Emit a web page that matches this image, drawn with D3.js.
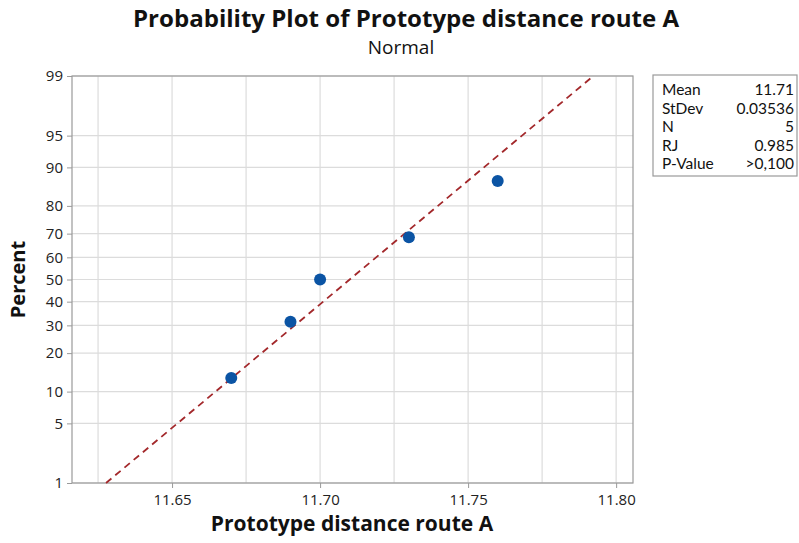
<!DOCTYPE html>
<html>
<head>
<meta charset="utf-8">
<title>Probability Plot</title>
<script src="https://d3js.org/d3.v7.min.js"></script>
<style>
 html, body { margin: 0; background: white; }
 svg text { font-family: "Open Sans", "Noto Sans", sans-serif; fill: #111; }
 .grid line { stroke: #dcdcdc; stroke-width: 1.2; }
 .axis path, .axis line { stroke: #9a9a9a; }
 .axis text { font-size: 15px; fill: #222; }
 .stats text { font-family: Lato, "Open Sans", sans-serif; }
</style>
</head>
<body>
<div id="plot"></div>
<script>
// data
const xs = [11.67, 11.69, 11.70, 11.73, 11.76];
const pcts = [13, 31.5, 50, 68.5, 87];
// fitted line end points (percent 1 and 99)
const fitX = [11.6277, 11.7923];
const fitP = [1, 99];
const yTicks = [1, 5, 10, 20, 30, 40, 50, 60, 70, 80, 90, 95, 99];
const xTicks = [11.65, 11.70, 11.75, 11.80];
const xGrid = [11.625, 11.65, 11.675, 11.70, 11.725, 11.75, 11.775, 11.80];
const statLabels = ["Mean", "StDev", "N", "RJ", "P-Value"];
const statValues = ["11.71", "0.03536", "5", "0.985", ">0,100"];

// inverse normal cdf (Acklam) for the probability scale
const invNorm = p => {
    const a = [-39.6968302866538, 220.946098424521, -275.928510446969, 138.357751867269, -30.6647980661472, 2.50662827745924];
    const b = [-54.4760987982241, 161.585836858041, -155.698979859887, 66.8013118877197, -13.2806815528857];
    const c = [-0.00778489400243029, -0.322396458041136, -2.40075827716184, -2.54973253934373, 4.37466414146497, 2.93816398269878];
    const d = [0.00778469570904146, 0.32246712907004, 2.445134137143, 3.75440866190742];
    const pl = 0.02425;
    let q, r;
    if (p < pl) {
        q = Math.sqrt(-2 * Math.log(p));
        return (((((c[0]*q+c[1])*q+c[2])*q+c[3])*q+c[4])*q+c[5]) / ((((d[0]*q+d[1])*q+d[2])*q+d[3])*q+1);
    } else if (p <= 1 - pl) {
        q = p - 0.5; r = q * q;
        return (((((a[0]*r+a[1])*r+a[2])*r+a[3])*r+a[4])*r+a[5])*q / (((((b[0]*r+b[1])*r+b[2])*r+b[3])*r+b[4])*r+1);
    }
    q = Math.sqrt(-2 * Math.log(1 - p));
    return -(((((c[0]*q+c[1])*q+c[2])*q+c[3])*q+c[4])*q+c[5]) / ((((d[0]*q+d[1])*q+d[2])*q+d[3])*q+1);
};

const W = 799, H = 543;
const L = 72, R = 633, T = 76, B = 483;

const svg = d3.select("#plot").append("svg")
    .attr("width", W).attr("height", H);

const x = d3.scaleLinear().domain([11.6162, 11.8057]).range([L, R]);
const zs = d3.scaleLinear().domain([invNorm(0.01), invNorm(0.99)]).range([B, T]);
const y = p => zs(invNorm(p / 100));

// grid
const grid = svg.append("g").attr("class", "grid");
grid.selectAll(".gx").data(xGrid).join("line")
    .attr("x1", d => x(d)).attr("x2", d => x(d))
    .attr("y1", T).attr("y2", B);
grid.selectAll(".gy").data(yTicks).join("line")
    .attr("x1", L).attr("x2", R)
    .attr("y1", d => y(d)).attr("y2", d => y(d));

// frame
svg.append("rect")
    .attr("x", L).attr("y", T).attr("width", R - L).attr("height", B - T)
    .attr("fill", "none").attr("stroke", "#9a9a9a").attr("stroke-width", 1.2);

// axes
svg.append("g")
    .attr("class", "axis")
    .attr("transform", "translate(" + L + ",0)")
    .call(d3.axisLeft(d3.scaleOrdinal().domain(yTicks).range(yTicks.map(y)))
        .tickSize(5).tickPadding(4))
    .call(g => g.select(".domain").remove());

svg.append("g")
    .attr("class", "axis")
    .attr("transform", "translate(0," + B + ")")
    .call(d3.axisBottom(x).tickValues(xTicks).tickFormat(d3.format(".2f"))
        .tickSize(5).tickPadding(6))
    .call(g => g.select(".domain").remove());

// fitted line
svg.append("line")
    .attr("x1", x(fitX[0])).attr("y1", y(fitP[0]))
    .attr("x2", x(fitX[1])).attr("y2", y(fitP[1]))
    .attr("stroke", "#a3282b").attr("stroke-width", 1.8)
    .attr("stroke-dasharray", "7,5");

// points
svg.selectAll(".pt").data(xs).join("circle")
    .attr("cx", d => x(d))
    .attr("cy", (d, i) => y(pcts[i]))
    .attr("r", 6)
    .attr("fill", "#0b54a4");

// titles
svg.append("text").attr("x", 406).attr("y", 27)
    .attr("text-anchor", "middle").attr("font-size", 23).attr("font-weight", "bold")
    .attr("textLength", 546).attr("lengthAdjust", "spacingAndGlyphs")
    .text("Probability Plot of Prototype distance route A");
svg.append("text").attr("x", 401).attr("y", 54)
    .attr("text-anchor", "middle").attr("font-size", 19)
    .text("Normal");
svg.append("text").attr("x", 352).attr("y", 531)
    .attr("text-anchor", "middle").attr("font-size", 21).attr("font-weight", "bold")
    .text("Prototype distance route A");
svg.append("text")
    .attr("transform", "translate(25," + ((T + B) / 2) + ") rotate(-90)")
    .attr("text-anchor", "middle").attr("font-size", 20).attr("font-weight", "bold")
    .text("Percent");

// stats box
const box = svg.append("g").attr("class", "stats").attr("transform", "translate(653,75)");
box.append("rect").attr("width", 144).attr("height", 101)
    .attr("fill", "white").attr("stroke", "#9a9a9a").attr("stroke-width", 1.2);
box.selectAll(".sl").data(statLabels).join("text")
    .attr("x", 9).attr("y", (d, i) => 20 + i * 18.6)
    .attr("font-size", 15.5).text(d => d);
box.selectAll(".sv").data(statValues).join("text")
    .attr("x", 141).attr("y", (d, i) => 20 + i * 18.6)
    .attr("text-anchor", "end").attr("font-size", 15.5).text(d => d);
</script>
</body>
</html>
